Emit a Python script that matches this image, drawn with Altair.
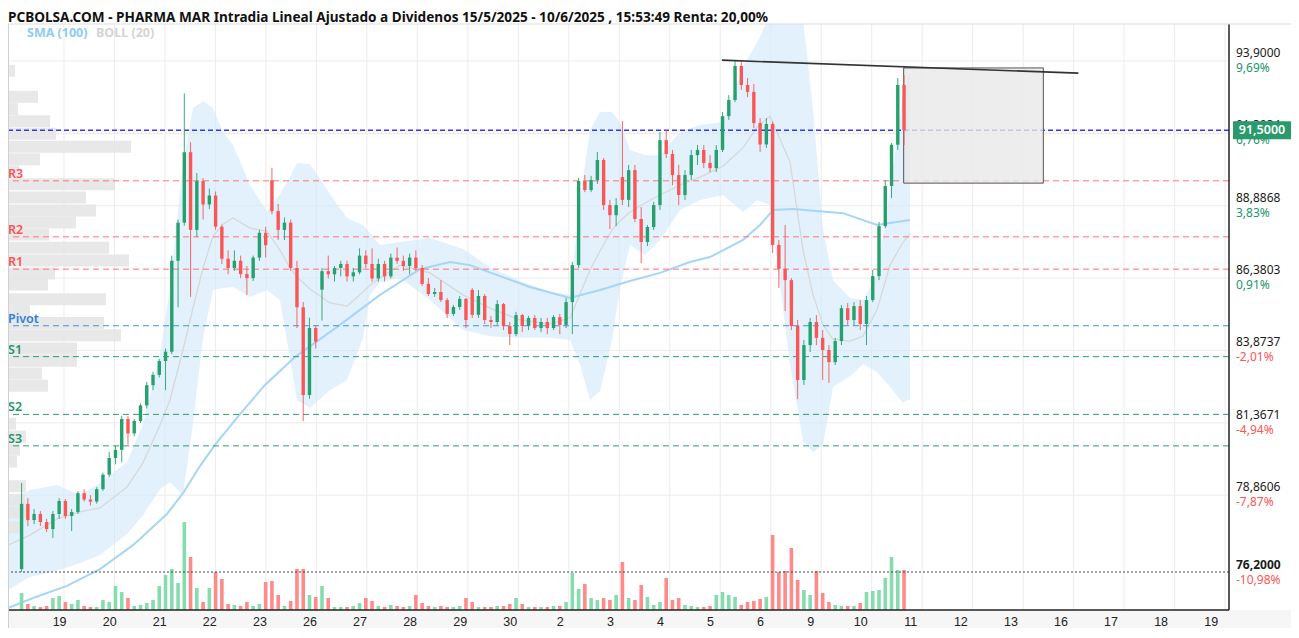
import altair as alt
import pandas as pd

W, H = 1221, 586
XD = [-1.109, 23.078]
YD = [74.884, 95.182]
SLOTS = 8

GREEN, RED = "#26a06e", "#f95656"
VGREEN, VRED = "#86dcae", "#ff8a8a"

title_text = "PCBOLSA.COM - PHARMA MAR Intradia Lineal Ajustado a Dividenos 15/5/2025 - 10/6/2025 , 15:53:49 Renta: 20,00%"

# ---- candles (8 per session, 16 May .. 10 Jun) ----
opens = [
76.30, 78.56, 78.00, 78.21, 77.93, 77.69, 78.21, 78.66,
78.14, 78.28, 78.93, 78.71, 78.64, 79.07, 79.57, 80.15,
80.43, 81.50, 81.00, 81.43, 81.97, 82.67, 83.03, 83.51,
83.83, 86.98, 88.30, 90.74, 88.05, 89.74, 88.93, 89.24,
88.16, 87.05, 86.73, 86.98, 86.52, 86.38, 87.09, 87.95,
89.77, 88.70, 88.05, 88.30, 86.73, 85.37, 82.33, 84.65,
85.98, 86.62, 86.51, 86.73, 86.87, 86.44, 86.58, 87.16,
86.87, 86.37, 86.87, 86.44, 87.09, 86.98, 86.80, 87.09,
86.73, 86.18, 85.83, 85.90, 85.62, 85.14, 85.38, 85.66,
85.97, 85.11, 85.76, 84.93, 84.86, 85.48, 84.72, 84.44,
85.10, 84.72, 85.00, 84.65, 84.86, 84.65, 85.03, 84.76,
85.55, 86.83, 89.74, 89.43, 89.78, 90.47, 88.91, 88.56,
89.88, 89.09, 90.12, 88.43, 87.63, 88.15, 88.91, 91.16,
90.68, 89.95, 89.26, 89.95, 90.64, 90.82, 90.37, 90.19,
90.82, 91.99, 92.55, 93.73, 93.07, 92.83, 91.75, 91.01,
91.72, 87.53, 86.70, 86.31, 84.72, 82.85, 84.06, 84.86,
84.31, 83.89, 83.47, 84.20, 85.34, 84.93, 85.41, 84.79,
85.62, 86.45, 88.18, 89.57, 91.00, 93.07]
highs = [
79.28, 78.76, 78.38, 78.31, 78.04, 78.31, 78.76, 78.73,
78.38, 79.00, 79.07, 78.86, 79.14, 79.64, 80.36, 80.57,
81.61, 81.60, 81.50, 82.04, 82.78, 83.14, 83.58, 83.94,
87.16, 88.41, 92.78, 91.09, 90.02, 89.84, 89.48, 89.38,
88.23, 87.34, 87.34, 87.16, 86.80, 87.16, 88.05, 88.16,
90.20, 88.95, 88.48, 88.41, 86.98, 85.55, 85.01, 84.75,
86.73, 87.16, 86.80, 86.98, 86.98, 86.73, 87.41, 87.34,
87.41, 87.05, 86.98, 87.23, 87.44, 87.16, 87.23, 87.34,
86.83, 86.38, 86.04, 86.31, 85.69, 85.45, 85.76, 85.69,
86.04, 85.97, 85.83, 85.07, 85.62, 85.52, 84.86, 85.21,
85.14, 85.07, 85.10, 85.00, 85.00, 85.10, 85.14, 85.69,
86.94, 89.85, 89.95, 89.92, 90.75, 90.54, 89.09, 89.15,
91.82, 90.30, 90.30, 88.84, 88.22, 89.02, 91.44, 91.51,
90.82, 90.30, 90.12, 90.82, 90.99, 90.99, 90.64, 90.99,
92.13, 92.72, 93.93, 93.87, 93.31, 93.10, 91.92, 91.92,
91.80, 87.70, 88.22, 86.38, 84.93, 84.24, 85.00, 85.10,
84.58, 84.06, 84.31, 85.45, 85.52, 85.55, 85.62, 85.76,
86.66, 88.32, 89.78, 91.06, 93.31, 93.41]
lows = [
76.20, 77.79, 77.86, 77.79, 77.59, 77.38, 78.04, 78.04,
77.62, 78.21, 78.64, 78.50, 78.57, 79.01, 79.50, 79.93,
80.00, 80.61, 80.90, 81.36, 81.86, 82.50, 82.94, 82.50,
83.75, 85.37, 88.20, 85.73, 87.80, 88.41, 88.77, 88.05,
86.87, 86.52, 86.63, 86.38, 85.80, 86.28, 86.98, 87.09,
88.59, 87.70, 87.70, 86.63, 84.65, 81.43, 82.20, 83.94,
84.91, 86.37, 86.26, 86.44, 86.26, 86.26, 86.51, 86.73,
86.26, 86.26, 86.26, 86.37, 86.87, 86.63, 86.51, 86.63,
86.11, 85.76, 85.73, 85.55, 85.00, 85.07, 85.28, 84.65,
85.00, 85.00, 84.79, 84.65, 84.76, 84.58, 84.06, 84.37,
84.51, 84.58, 84.58, 84.51, 84.44, 84.58, 84.44, 84.65,
84.44, 86.73, 89.36, 89.36, 89.64, 88.74, 88.08, 88.18,
88.91, 88.84, 88.32, 86.90, 87.49, 88.05, 88.74, 90.54,
89.60, 88.91, 89.09, 89.78, 90.30, 90.19, 90.05, 90.05,
90.75, 91.86, 92.48, 92.90, 92.65, 91.58, 90.75, 90.89,
87.25, 86.04, 85.24, 84.58, 82.19, 82.68, 83.82, 84.06,
82.85, 82.75, 83.37, 84.06, 84.76, 84.72, 84.58, 84.06,
85.55, 86.31, 88.11, 89.15, 90.82, 90.99]
closes = [
78.56, 78.00, 78.21, 77.93, 77.69, 78.21, 78.66, 78.14,
78.28, 78.93, 78.71, 78.64, 79.07, 79.57, 80.15, 80.43,
81.50, 81.00, 81.43, 81.97, 82.67, 83.03, 83.51, 83.83,
86.98, 88.30, 90.74, 88.05, 89.74, 88.93, 89.24, 88.16,
87.05, 86.73, 86.98, 86.52, 86.38, 87.09, 87.95, 87.52,
88.70, 88.05, 88.30, 86.73, 85.37, 82.33, 84.65, 84.18,
86.62, 86.51, 86.73, 86.87, 86.44, 86.58, 87.16, 86.87,
86.37, 86.87, 86.44, 87.09, 86.98, 86.80, 87.09, 86.73,
86.18, 85.83, 85.90, 85.62, 85.14, 85.38, 85.66, 84.93,
85.11, 85.76, 84.93, 84.86, 85.48, 84.72, 84.44, 85.10,
84.72, 85.00, 84.65, 84.86, 84.65, 85.03, 84.76, 85.55,
86.83, 89.74, 89.43, 89.78, 90.47, 88.91, 88.56, 88.91,
89.09, 90.12, 88.43, 87.63, 88.15, 88.91, 91.16, 90.68,
89.95, 89.26, 89.95, 90.64, 90.82, 90.37, 90.19, 90.82,
91.99, 92.55, 93.73, 93.07, 92.83, 91.75, 91.01, 91.72,
87.53, 86.70, 86.31, 84.72, 82.85, 84.06, 84.86, 84.31,
83.89, 83.47, 84.20, 85.34, 84.93, 85.41, 84.79, 85.62,
86.45, 88.18, 89.57, 91.00, 93.07, 91.50]
volumes = [
17, 6, 4, 3, 4, 12, 14, 8,
6, 10, 4, 3, 3, 10, 8, 24,
18, 12, 4, 5, 7, 10, 24, 35,
41, 27, 88, 53, 22, 8, 22, 38,
31, 6, 5, 4, 8, 4, 6, 28,
29, 15, 4, 9, 41, 41, 15, 13,
24, 12, 3, 3, 3, 4, 7, 12,
9, 4, 3, 5, 4, 3, 4, 15,
7, 4, 3, 4, 3, 3, 4, 12,
8, 3, 3, 3, 4, 4, 6, 12,
6, 3, 3, 3, 3, 4, 4, 8,
37, 21, 26, 12, 10, 12, 10, 15,
48, 12, 10, 25, 13, 5, 8, 32,
10, 12, 5, 4, 3, 3, 4, 15,
18, 15, 13, 5, 8, 9, 11, 13,
75, 38, 39, 62, 30, 20, 15, 39,
17, 8, 5, 4, 4, 4, 7, 18,
19, 20, 32, 53, 40, 40]

# ---- Bollinger (20) ----
boll_t = [-1.109, -0.674, -0.139, 0.317, 0.713, 1.248, 1.565, 1.902, 2.100, 2.357,
          2.555, 2.754, 2.952, 3.150, 3.348, 3.685, 4.021, 4.279, 4.477, 4.616,
          4.873, 5.269, 5.606, 5.923, 6.062, 6.260, 6.656, 7.250, 7.904, 8.439,
          9.033, 9.628, 10.024, 10.222, 10.420, 10.618, 10.856, 11.014, 11.212, 11.509,
          11.807, 12.203, 12.599, 13.055, 13.451, 13.728, 13.986, 14.382, 14.640, 14.838,
          15.036, 15.234, 15.571, 15.828, 16.106, 16.363, 16.621, 16.759]
boll_up = [78.69, 79.04, 79.21, 78.87, 79.28, 80.01, 81.33, 83.72, 86.07, 90.26,
           92.27, 92.51, 92.27, 91.44, 90.99, 89.60, 88.70, 89.29, 89.88, 90.37,
           90.33, 89.29, 88.46, 88.22, 87.94, 87.53, 87.63, 87.77, 87.39, 86.76,
           86.28, 85.90, 85.80, 89.09, 91.51, 92.13, 92.13, 91.79, 90.82, 90.64,
           90.64, 91.44, 91.68, 91.79, 93.73, 94.52, 95.49, 95.49, 95.39, 92.20,
           88.05, 86.31, 85.69, 85.62, 86.49, 89.43, 92.72, 93.59]
boll_lo = [75.58, 76.03, 76.24, 76.51, 76.79, 77.52, 78.17, 79.07, 79.32, 78.87,
           81.33, 84.31, 85.97, 86.04, 86.07, 85.73, 85.97, 85.62, 83.61, 82.16,
           81.88, 82.50, 82.85, 84.31, 85.80, 86.24, 86.38, 85.62, 84.58, 84.37,
           84.31, 84.31, 84.24, 83.40, 82.16, 82.47, 84.24, 86.04, 87.53, 87.18,
           87.70, 88.74, 89.09, 89.26, 88.67, 89.09, 88.91, 83.40, 80.74, 80.36,
           80.60, 82.61, 82.99, 83.40, 83.13, 82.61, 82.05, 82.19]
boll_mid = [77.13, 77.48, 78.04, 78.28, 78.42, 79.14, 79.98, 81.29, 82.16, 83.89,
            85.34, 86.73, 87.84, 88.25, 88.46, 88.11, 88.01, 87.35, 86.73, 86.42,
            86.00, 85.52, 85.41, 85.90, 86.14, 86.38, 86.83, 86.56, 85.80, 85.34,
            84.93, 84.79, 85.00, 85.83, 86.66, 87.32, 88.05, 88.36, 88.67, 88.98,
            89.26, 89.60, 89.88, 90.26, 90.89, 91.61, 91.99, 90.40, 87.35, 85.80,
            84.77, 84.27, 84.20, 84.37, 85.28, 86.83, 87.63, 87.91]

# ---- SMA (100) ----
sma_t = [-1.109, -0.614, 0.059, 0.713, 1.367, 2.040, 2.357, 2.694, 2.991, 3.487,
         3.982, 4.576, 5.468, 6.260, 7.052, 7.647, 8.043, 8.637, 9.231, 10.024,
         10.618, 11.212, 11.807, 12.401, 12.797, 13.451, 13.788, 14.045, 14.441, 15.432,
         16.106, 16.759]
sma_v = [74.95, 75.30, 75.72, 76.30, 77.13, 78.21, 78.93, 79.87, 80.60, 81.67,
         82.68, 83.65, 84.76, 85.80, 86.69, 86.94, 86.83, 86.45, 86.07, 85.69,
         85.97, 86.28, 86.56, 86.94, 87.11, 87.70, 88.22, 88.74, 88.77, 88.63,
         88.22, 88.39]

# ---- volume profile ----
prof_price = [93.71, 92.79, 92.36, 91.93, 91.49, 91.03, 90.59, 90.16, 89.71, 89.24,
              88.79, 88.36, 87.94, 87.47, 87.02, 86.57, 86.18, 85.66, 85.24, 84.82,
              84.39, 83.92, 83.49, 83.04, 82.61, 81.27, 80.82, 80.36, 79.94, 79.07,
              78.59, 78.14, 77.62]
prof_vol = [7, 30, 10, 42, 48, 123, 32, 11, 107, 78, 88, 68, 41, 101, 121, 47, 40, 98,
            22, 96, 113, 69, 69, 34, 40, 8, 18, 12, 9, 18, 17, 18, 15]

# ---- pivot levels ----
lvl_names = ["R3", "R2", "R1", "Pivot", "S1", "S2", "S3"]
lvl_price = [89.75, 87.81, 86.69, 84.73, 83.66, 81.66, 80.57]
lvl_line_col = ["#ff7474", "#ff7474", "#ff7474", "#4a8fe0", "#2e9e6e", "#2e9e6e", "#2e9e6e"]
lvl_text_col = ["#ff5252", "#ff5252", "#ff5252", "#2f7fe0", "#23956a", "#23956a", "#23956a"]
last_price = 91.50
min_price = 76.20

# ---- axes ----
grid_prices = [93.9, 91.3934, 88.8868, 86.3803, 83.8737, 81.3671, 78.8606]
grid_texts = ["93,9000", "91,3934", "88,8868", "86,3803", "83,8737", "81,3671", "78,8606"]
grid_pcts = ["9,69%", "6,76%", "3,83%", "0,91%", "-2,01%", "-4,94%", "-7,87%"]
min_text, min_pct = "76,2000", "-10,98%"
day_labels = ["19", "20", "21", "22", "23", "26", "27", "28", "29", "30", "2", "3",
              "4", "5", "6", "9", "10", "11", "12", "13", "16", "17", "18", "19"]

# ---- drawings ----
trend_t = [13.05, 20.17]
trend_p = [93.93, 93.48]
box_t = [16.68, 19.47]
box_p = [93.66, 89.67]

# ================= build =================
n = len(closes)
cdf = pd.DataFrame({
    "u": [(i // SLOTS - 1) + (i % SLOTS + 0.5) / SLOTS for i in range(n)],
    "o": opens, "h": highs, "l": lows, "c": closes, "v": volumes,
})
bdf = pd.DataFrame({"u": boll_t, "up": boll_up, "lo": boll_lo, "mid": boll_mid})
sdf = pd.DataFrame({"u": sma_t, "p": sma_v})
pdf = pd.DataFrame({"p": prof_price, "w": prof_vol})
ldf = pd.DataFrame({"name": lvl_names, "p": lvl_price, "lc": lvl_line_col, "tc": lvl_text_col})
gdf = pd.DataFrame({"p": grid_prices, "t": grid_texts, "pct": grid_pcts,
                    "pc": ["#23956a" if not s.startswith("-") else "#f95656" for s in grid_pcts]})
mdf = pd.DataFrame({"p": [min_price], "t": [min_text], "pct": [min_pct]})
vgdf = pd.DataFrame({"u": list(range(0, 24))})
xdf = pd.DataFrame({"u": [k - 0.178 for k in range(len(day_labels))], "t": day_labels})
tdf = pd.DataFrame({"u": trend_t, "p": trend_p})
rdf = pd.DataFrame({"u1": [box_t[0]], "u2": [box_t[1]], "p1": [box_p[0]], "p2": [box_p[1]]})

XS = alt.Scale(domain=XD, nice=False, zero=False)
YS = alt.Scale(domain=YD, nice=False, zero=False)
X = lambda f: alt.X(f, type="quantitative", scale=XS, axis=None)
Y = lambda f: alt.Y(f, type="quantitative", scale=YS, axis=None)
updown = lambda g, r: alt.condition("datum.c >= datum.o", alt.value(g), alt.value(r))

one = pd.DataFrame({"t": [title_text]})

# background group
vgrid = alt.Chart(vgdf).mark_rule(color="#ececec", strokeWidth=1).encode(x=X("u"))
hgrid = alt.Chart(gdf).mark_rule(color="#ececec", strokeWidth=1).encode(y=Y("p"))
band = alt.Chart(bdf).mark_area(color="#cfe8fa", opacity=0.6, clip=True).encode(
    x=X("u"), y=Y("up"), y2="lo")
mid = alt.Chart(bdf).mark_line(color="#d8d8d8", strokeWidth=1.3, clip=True).encode(x=X("u"), y=Y("mid"))
sma = alt.Chart(sdf).mark_line(color="#a6d5f7", strokeWidth=2, clip=True).encode(x=X("u"), y=Y("p"))
back = alt.layer(vgrid, hgrid, band, mid, sma)

# volume profile
profile = alt.Chart(pdf).mark_bar(size=12, orient="horizontal", color="#e4e4e4", opacity=0.85).encode(
    x=alt.X("w:Q", scale=alt.Scale(domain=[0, W], nice=False), axis=None),
    y=alt.Y("p:Q", scale=YS, axis=None))

# volume bars
vol = alt.Chart(cdf).mark_bar(size=3.6).encode(
    x=X("u"),
    y=alt.Y("v:Q", scale=alt.Scale(domain=[0, H], nice=False), axis=None),
    color=updown(VGREEN, VRED))

# front group
lvl_rules = alt.Chart(ldf).mark_rule(strokeDash=[6, 4], strokeWidth=1).encode(
    y=Y("p"), color=alt.Color("lc:N", scale=None))
last_rule = alt.Chart(pd.DataFrame({"p": [last_price]})).mark_rule(
    strokeDash=[5, 3], strokeWidth=1.5, color="#3036ff").encode(y=Y("p"))
min_rule = alt.Chart(pd.DataFrame({"p": [min_price]})).mark_rule(
    strokeDash=[2, 2], strokeWidth=1.2, color="#444444").encode(y=Y("p"))
lvl_text = alt.Chart(ldf).mark_text(align="left", baseline="alphabetic", dy=-3,
                                    font="Noto Sans", fontSize=12.5, fontWeight=600).encode(
    x=alt.value(0), y=Y("p"), text="name:N", color=alt.Color("tc:N", scale=None))
box = alt.Chart(rdf).mark_rect(fill="#e9e9e9", fillOpacity=0.8, stroke="#555555", strokeWidth=1).encode(
    x=X("u1"), x2="u2", y=Y("p1"), y2="p2")
wicks = alt.Chart(cdf).mark_rule(strokeWidth=0.9).encode(
    x=X("u"), y=Y("l"), y2="h", color=updown(GREEN, RED))
bodies = alt.Chart(cdf).mark_bar(size=3.4).encode(
    x=X("u"), y=Y("o"), y2="c", color=updown(GREEN, RED))
trend = alt.Chart(tdf).mark_line(color="#333333", strokeWidth=1.6).encode(x=X("u"), y=Y("p"))

axis_band = alt.Chart(one).mark_rect(color="#f6f6f6").encode(
    x=alt.value(0), x2=alt.value(W + 62), y=alt.value(H), y2=alt.value(H + 22))
bottom_line = alt.Chart(one).mark_rule(color="#222222", strokeWidth=1.5).encode(
    x=alt.value(0), x2=alt.value(W), y=alt.value(H))
right_line = alt.Chart(one).mark_rule(color="#222222", strokeWidth=1.5).encode(
    x=alt.value(W), y=alt.value(0), y2=alt.value(H))
left_line = alt.Chart(one).mark_rule(color="#d0d0d0", strokeWidth=1).encode(
    x=alt.value(0.5), y=alt.value(0), y2=alt.value(H + 22))
top_line = alt.Chart(one).mark_rule(color="#dddddd", strokeWidth=1).encode(
    x=alt.value(0), x2=alt.value(W + 62), y=alt.value(0))

price_lbl = alt.Chart(gdf).mark_text(align="left", baseline="middle", dy=-8, font="Noto Sans",
                                     fontSize=12, color="#1a1a1a").encode(
    x=alt.value(W + 7), y=Y("p"), text="t:N")
pct_lbl = alt.Chart(gdf).mark_text(align="left", baseline="middle", dy=7, font="Noto Sans",
                                   fontSize=12).encode(
    x=alt.value(W + 7), y=Y("p"), text="pct:N", color=alt.Color("pc:N", scale=None))
min_lbl = alt.Chart(mdf).mark_text(align="left", baseline="middle", dy=-7, font="Noto Sans",
                                   fontSize=12, fontWeight="bold", color="#1a1a1a").encode(
    x=alt.value(W + 7), y=Y("p"), text="t:N")
min_pct_lbl = alt.Chart(mdf).mark_text(align="left", baseline="middle", dy=7.5, font="Noto Sans",
                                       fontSize=12, color="#f95656").encode(
    x=alt.value(W + 7), y=Y("p"), text="pct:N")
last_box = alt.Chart(pd.DataFrame({"p": [last_price], "t": ["91,5000"]})).mark_point(
    shape="M-1,-0.31L1,-0.31L1,0.31L-1,0.31Z", filled=True, size=3364, opacity=1,
    color="#2a9a6c").encode(x=alt.value(W + 33), y=Y("p"))
last_txt = alt.Chart(pd.DataFrame({"p": [last_price], "t": ["91,5000"]})).mark_text(
    align="center", baseline="middle", font="Noto Sans", fontSize=12.5, fontWeight=600,
    color="white").encode(x=alt.value(W + 33), y=Y("p"), text="t:N")
x_lbl = alt.Chart(xdf).mark_text(baseline="middle", font="Liberation Sans", fontSize=12.5,
                                 color="#222222").encode(x=X("u"), y=alt.value(H + 12), text="t:N")

title = alt.Chart(one).mark_text(align="left", baseline="middle", font="Noto Sans", fontSize=13.6,
                                 fontWeight="bold", color="#111111").encode(
    x=alt.value(0), y=alt.value(-6.5), text="t:N")
leg1 = alt.Chart(pd.DataFrame({"t": ["SMA (100)"]})).mark_text(
    align="left", baseline="middle", font="Noto Sans", fontSize=12.5, fontWeight="bold",
    color="#8fcbf5").encode(x=alt.value(19), y=alt.value(9), text="t:N")
leg2 = alt.Chart(pd.DataFrame({"t": ["BOLL (20)"]})).mark_text(
    align="left", baseline="middle", font="Noto Sans", fontSize=12.5, fontWeight="bold",
    color="#d4d4d4").encode(x=alt.value(88), y=alt.value(9), text="t:N")

front = alt.layer(lvl_rules, last_rule, min_rule, box, wicks, bodies, trend, lvl_text,
                  axis_band, bottom_line, right_line, left_line, top_line,
                  price_lbl, pct_lbl, min_lbl, min_pct_lbl, last_box, last_txt, x_lbl,
                  title, leg1, leg2)

chart = alt.layer(back, profile, vol, front).resolve_scale(
    x="independent", y="independent", color="independent"
).properties(
    width=W, height=H,
    padding={"left": 0, "top": 16, "right": 62, "bottom": 18},
    autosize=alt.AutoSizeParams(type="none"),
).configure_view(stroke=None)

chart.save("out.html", embed_options={"renderer": "svg", "actions": False})
